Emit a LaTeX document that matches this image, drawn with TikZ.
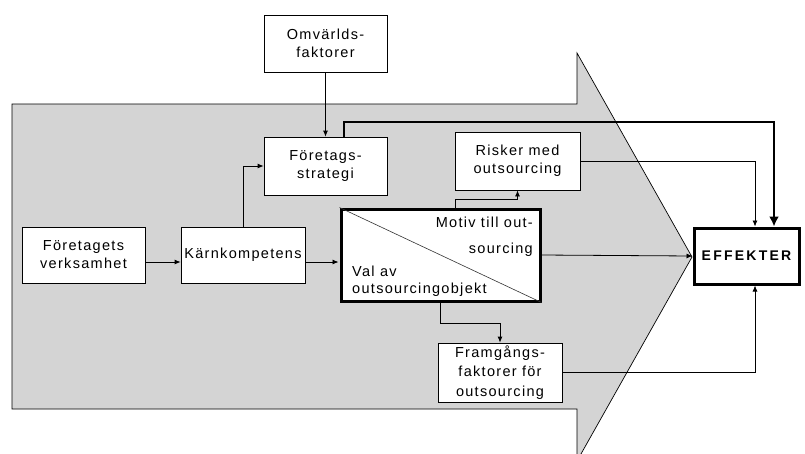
\documentclass[tikz,border=0pt]{standalone}
\usepackage{fontspec}
\setmainfont{Liberation Sans}[LetterSpace=9]
\usetikzlibrary{arrows.meta,calc}
\definecolor{shade}{RGB}{212,212,212}
\begin{document}
\begin{tikzpicture}[x=1pt,y=-1pt,
  txt/.style={font=\fontsize{14.5}{18}\selectfont},
  box/.style={draw=black,line width=0.8pt,fill=white,rectangle,align=center,inner sep=0pt,txt},
  conn/.style={draw=black,line width=0.8pt},
  arr/.style={conn,-{Latex[length=6pt,width=5pt]}},
  bigarr/.style={draw=black,line width=2pt,-{Latex[length=10pt,width=10pt]}}]
\useasboundingbox (0,0) rectangle (805,453);
% big arrow background
\path[fill=shade,draw=black,line width=0.7pt] (12,104) -- (577,104) -- (577,53) -- (692,257) -- (577,461) -- (577,409) -- (12,409) -- cycle;
% boxes
\node[box,minimum width=123pt,minimum height=57pt] (omv) at (325.5,43.5) {Omvärlds-\\faktorer};
\node[box,minimum width=123pt,minimum height=58pt] (strat) at (325.5,166) {Företags-\\strategi};
\node[box,minimum width=125pt,minimum height=58pt] (risk) at (517.5,161) {Risker med\\outsourcing};
\node[box,minimum width=123pt,minimum height=56pt] (verks) at (83.5,255) {Företagets\\verksamhet};
\node[box,minimum width=124pt,minimum height=56pt] (karn) at (243,255) {Kärnkompetens};
\node[box,line width=3pt,minimum width=199pt,minimum height=92pt] (mid) at (440.5,255) {};
\node[box,minimum width=124pt,minimum height=59pt,font=\fontsize{14.5}{19.5}\selectfont] (fram) at (500,372.5) {Framgångs-\\faktorer för\\outsourcing};
\node[box,line width=3pt,minimum width=105pt,minimum height=56pt,font=\fontsize{14}{16}\bfseries\addfontfeatures{LetterSpace=16}] (eff) at (746.5,256) {EFFEKTER};
% inside middle box
\draw[line width=0.6pt,black!80] (mid.north west) -- (mid.south east);
\node[anchor=east,inner sep=0pt,txt] (mot1) at (533,222) {Motiv till out-};
\node[anchor=east,inner sep=0pt,txt] (mot2) at (533,250) {sourcing};
\node[anchor=west,inner sep=0pt,txt] (val1) at (352,271) {Val av};
\node[anchor=west,inner sep=0pt,txt] (val2) at (352,290) {outsourcingobjekt};
% connectors
\draw[arr] (omv.south) -- (strat.north);
\coordinate (t1) at (774,122);
\draw[bigarr] ([xshift=18.5pt]strat.north) |- (t1) -- ([xshift=27.5pt]eff.north);
\draw[arr] (risk.east) -| ([xshift=8.5pt]eff.north);
\draw[arr] (karn.north) |- (strat.west);
\draw[arr] ([yshift=-7pt]verks.east) -- ([yshift=-7pt]karn.west);
\draw[arr] ([yshift=-7pt]karn.east) -- ([yshift=-7pt,xshift=-1pt]mid.west);
\coordinate (c1) at (455,199);
\draw[arr] (mid.north -| c1) -- (c1) -| (risk.south);
\draw[arr] (mid.east) -- (eff.west);
\draw[arr] (mid.south) -- ++(0,21) -| (fram.north);
\draw[arr] (fram.east) -| ([xshift=8.5pt]eff.south);
\end{tikzpicture}
\end{document}
